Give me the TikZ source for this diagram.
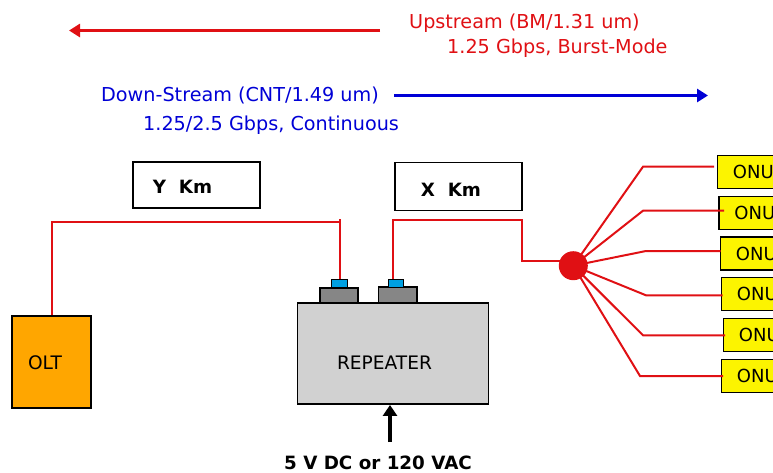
\documentclass[tikz,border=0pt]{standalone}
\usepackage{fontspec}
\setmainfont{DejaVu Sans}
\usetikzlibrary{arrows.meta}
\definecolor{wire}{RGB}{224,16,20}
\definecolor{dsblue}{RGB}{0,0,214}
\definecolor{onuy}{RGB}{252,244,0}
\definecolor{oltor}{RGB}{255,166,0}
\definecolor{repg}{RGB}{209,209,209}
\definecolor{portg}{RGB}{134,134,134}
\definecolor{capb}{RGB}{0,160,226}
\newcommand{\reg}{\fontsize{18.6}{22}\selectfont}
\newcommand{\bld}{\fontsize{18.3}{22}\bfseries\selectfont}
\tikzset{
  x=1pt,y=-1pt,
  txt/.style={inner sep=0pt,font=\fontsize{19.2}{22}\selectfont,anchor=west},
  bx/.style={draw=black,line width=1.9pt,inner sep=0pt,font=\reg},
  onu/.style={bx,fill=onuy,minimum width=90pt,minimum height=33pt,anchor=west,text width=85pt,align=left,font=\fontsize{18}{22}\selectfont},
  wirel/.style={draw=wire,line width=2pt},
  flow/.style={line width=3.4pt,-{Triangle[length=11pt,width=13pt]}}
}
\begin{document}
\begin{tikzpicture}
\useasboundingbox (0,0) rectangle (773,472);
\clip (0,0) rectangle (773,472);
% flow arrows
\coordinate (us1) at (380,30.5); \coordinate (us2) at (69,30.5);
\coordinate (ds1) at (394,95.5); \coordinate (ds2) at (708,95.5);
\draw[flow,wire] (us1) -- (us2);
\draw[flow,dsblue] (ds1) -- (ds2);
\node[txt,text=wire] (up1) at (409,23.5) {Upstream (BM/1.31 um)};
\node[txt,text=wire] (up2) at (447,48.5) {1.25 Gbps, Burst-Mode};
\node[txt,text=dsblue] (dn1) at (101,95.5) {Down-Stream (CNT/1.49 um)};
\node[txt,text=dsblue] (dn2) at (143,125.5) {1.25/2.5 Gbps, Continuous};
% distance boxes
\node[bx,minimum width=127pt,minimum height=46pt] (ykm) at (196.5,185) {};
\node[inner sep=0pt,font=\bld] (ytxt) at (182.5,187) {Y\ \ Km};
\node[bx,minimum width=127pt,minimum height=48pt] (xkm) at (458.5,186.5) {};
\node[inner sep=0pt,font=\bld] (xtxt) at (451,190) {X\ \ Km};
% OLT and repeater
\node[bx,fill=oltor,minimum width=79pt,minimum height=92pt] (olt) at (51.5,362) {};
\node[inner sep=0pt,font=\reg] (olttxt) at (45,362.5) {OLT};
\node[bx,fill=repg,minimum width=191pt,minimum height=101pt] (rep) at (393,353.5) {};
\node[inner sep=0pt,font=\reg] (reptxt) at (384.5,362.5) {REPEATER};
% ports
\node[bx,fill=portg,minimum width=38pt,minimum height=15pt] (p1) at (339,295.5) {};
\node[bx,fill=portg,minimum width=38.5pt,minimum height=16pt] (p2) at (397.7,295) {};
\node[bx,fill=capb,line width=1.4pt,minimum width=15.5pt,minimum height=8.5pt] (c1) at (339.5,283.8) {};
\node[bx,fill=capb,line width=1.4pt,minimum width=15.5pt,minimum height=8pt] (c2) at (396,283.5) {};
% wires to repeater
\coordinate (w1b) at (340,222);
\coordinate (w2) at (393.3,278.8);
\coordinate (w3) at (393.3,220);
\coordinate (w4) at (521.7,220);
\coordinate (w5) at (521.7,260.7);
\coordinate (w6) at (340,279);
\coordinate (w7) at (340,219);
\node[circle,fill=wire,minimum size=29pt,inner sep=0pt] (split) at (573.3,265.7) {};
\coordinate (w8) at (565,260.7);
\draw[wirel] (olt.north) |- (w1b);
\draw[wirel] (w7) -- (w6);
\draw[wirel] (w2) -- (w3) -- (w4) -- (w5) -- (w8);
% ONUs
\node[onu] (o1) at (716.5,172) {\hspace{13pt}ONU};
\node[onu] (o2) at (718,213) {\hspace{13pt}ONU};
\node[onu] (o3) at (719.5,253.5) {\hspace{13pt}ONU};
\node[onu] (o4) at (720.5,294) {\hspace{13pt}ONU};
\node[onu] (o5) at (722.5,335) {\hspace{13pt}ONU};
\node[onu] (o6) at (720.5,376) {\hspace{13pt}ONU};
% fan-out
\coordinate (e1) at (714,166.7); \coordinate (b1) at (643,166.7);
\coordinate (e2) at (724,210.7); \coordinate (b2) at (643,210.7);
\coordinate (e3) at (720.7,251); \coordinate (b3) at (646,251);
\coordinate (e4) at (722.7,295.3); \coordinate (b4) at (646,295.3);
\coordinate (e5) at (725,335.3); \coordinate (b5) at (643,335.3);
\coordinate (e6) at (723,376); \coordinate (b6) at (640,376);
\foreach \i in {1,...,6}{\draw[wirel] (split.center) -- (b\i) -- (e\i);}
% power
\coordinate (pw) at (390,442);
\draw[line width=4.5pt,-{Triangle[length=11pt,width=14pt]}] (pw) -- (rep.south -| pw);
\node[inner sep=0pt,font=\bld] (pwt) at (378,463) {5 V DC or 120 VAC};
\end{tikzpicture}
\end{document}
